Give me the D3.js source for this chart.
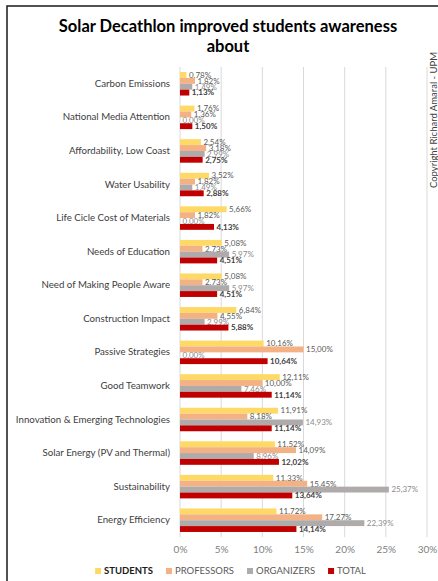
<!DOCTYPE html>
<html lang="en">
<head>
<meta charset="utf-8" />
<script src="https://d3js.org/d3.v7.min.js"></script>
<title>Solar Decathlon</title>
<style>
  body { margin: 0; background: #fff; }
  svg { display: block; font-family: Lato, "Open Sans", sans-serif; }
</style>
</head>
<body>
<div id="container"></div>
<script>
const categories = [
  'Carbon Emissions',
  'National Media Attention',
  'Affordability, Low Coast',
  'Water Usability',
  'Life Cicle Cost of Materials',
  'Needs of Education',
  'Need of Making People Aware',
  'Construction Impact',
  'Passive Strategies',
  'Good Teamwork',
  'Innovation & Emerging Technologies',
  'Solar Energy (PV and Thermal)',
  'Sustainability',
  'Energy Efficiency'
];
const seriesNames = ['STUDENTS', 'PROFESSORS', 'ORGANIZERS', 'TOTAL'];
const students   = [0.78, 1.76, 2.54, 3.52, 5.66, 5.08, 5.08, 6.84, 10.16, 12.11, 11.91, 11.52, 11.33, 11.72];
const professors = [1.82, 1.36, 3.18, 1.82, 1.82, 2.73, 2.73, 4.55, 15.00, 10.00, 8.18, 14.09, 15.45, 17.27];
const organizers = [1.49, 0.00, 2.99, 1.49, 0.00, 5.97, 5.97, 2.99, 0.00, 7.46, 14.93, 8.96, 25.37, 22.39];
const total      = [1.13, 1.50, 2.75, 2.88, 4.13, 4.51, 4.51, 5.88, 10.64, 11.14, 11.14, 12.02, 13.64, 14.14];
const xTicks = [0, 5, 10, 15, 20, 25, 30];

const width = 438;
const height = 581;
const colors = ['#ffd966', '#f4b183', '#afabab', '#c00000'];
const labelColors = ['#595959', '#595959', '#8c8c8c', '#404040'];
const values = [students, professors, organizers, total];

const svg = d3.select('#container')
  .append('svg')
  .attr('width', width)
  .attr('height', height);

svg.append('rect')
  .attr('x', 7).attr('y', 6)
  .attr('width', 460).attr('height', 600)
  .attr('fill', '#fff')
  .attr('stroke', '#1a1a1a')
  .attr('stroke-width', 1.5);

// title
const title = svg.append('text')
  .attr('text-anchor', 'middle')
  .attr('font-size', 16.5)
  .attr('font-weight', 'bold')
  .attr('fill', '#000');
title.append('tspan').attr('x', 228).attr('y', 32).text('Solar Decathlon improved students awareness');
title.append('tspan').attr('x', 228).attr('y', 52).text('about');

const x = d3.scaleLinear().domain([0, 30]).range([180, 427]);
const y = d3.scaleBand().domain(categories).range([67, 537]);
const ySub = d3.scaleBand().domain(seriesNames)
  .range([y.bandwidth() * 0.15, y.bandwidth() * 0.85]);

// gridlines
svg.append('g')
  .selectAll('line')
  .data(xTicks)
  .enter()
  .append('line')
  .attr('x1', d => x(d)).attr('x2', d => x(d))
  .attr('y1', 67).attr('y2', 537)
  .attr('stroke', '#d9d9d9')
  .attr('stroke-width', 1);

// x axis labels
const xAxis = d3.axisBottom(x)
  .tickValues(xTicks)
  .tickFormat(d => d + '%')
  .tickSize(0)
  .tickPadding(9);

svg.append('g')
  .attr('transform', 'translate(0, 537)')
  .call(xAxis)
  .call(g => g.select('.domain').remove())
  .selectAll('text')
  .attr('fill', '#808080')
  .style('font-family', 'Lato, sans-serif')
  .style('font-size', '10px');

// category labels
const yAxis = d3.axisLeft(y).tickSize(0).tickPadding(10);
svg.append('g')
  .attr('transform', 'translate(180, 0)')
  .call(yAxis)
  .call(g => g.select('.domain').remove())
  .selectAll('text')
  .attr('fill', '#404040')
  .style('font-family', 'Lato, sans-serif')
  .style('font-size', '9.7px');

const fmt = v => d3.format('.2f')(v).replace('.', ',') + '%';

seriesNames.forEach((name, si) => {
  const g = svg.append('g');
  const rows = categories.map((c, i) => ({ cat: c, v: values[si][i] }));

  g.selectAll('rect')
    .data(rows)
    .enter()
    .append('rect')
    .attr('x', x(0))
    .attr('y', d => y(d.cat) + ySub(name))
    .attr('width', d => x(d.v) - x(0))
    .attr('height', ySub.bandwidth())
    .attr('fill', colors[si]);

  g.selectAll('text')
    .data(rows)
    .enter()
    .append('text')
    .attr('x', d => x(d.v) + 2.5)
    .attr('y', d => y(d.cat) + ySub(name) + ySub.bandwidth() / 2)
    .attr('dy', '0.35em')
    .attr('font-size', 8)
    .attr('font-weight', si === 3 ? 'bold' : 'normal')
    .attr('fill', labelColors[si])
    .text(d => fmt(d.v));
});

// legend, centred under the plot
const legend = svg.append('g');
let lx = 0;
seriesNames.forEach((name, i) => {
  const item = legend.append('g').attr('transform', `translate(${lx}, 0)`);
  item.append('rect')
    .attr('x', 0).attr('y', -3)
    .attr('width', 6).attr('height', 6)
    .attr('fill', colors[i]);
  const t = item.append('text')
    .attr('x', 9)
    .attr('dy', '0.35em')
    .attr('font-size', 9.5)
    .attr('font-weight', i === 0 ? 'bold' : 'normal')
    .attr('fill', i === 0 ? '#1a1a1a' : '#595959')
    .text(name);
  lx += 9 + t.node().getComputedTextLength() + (i < 3 ? 13 : 0);
});
legend.attr('transform', `translate(${230.5 - lx / 2}, 571)`);

// copyright
svg.append('text')
  .attr('transform', 'translate(437, 120) rotate(-90)')
  .attr('text-anchor', 'middle')
  .attr('font-size', 9.5)
  .attr('fill', '#404040')
  .text('Copyright Richard Amaral - UPM');
</script>
</body>
</html>
